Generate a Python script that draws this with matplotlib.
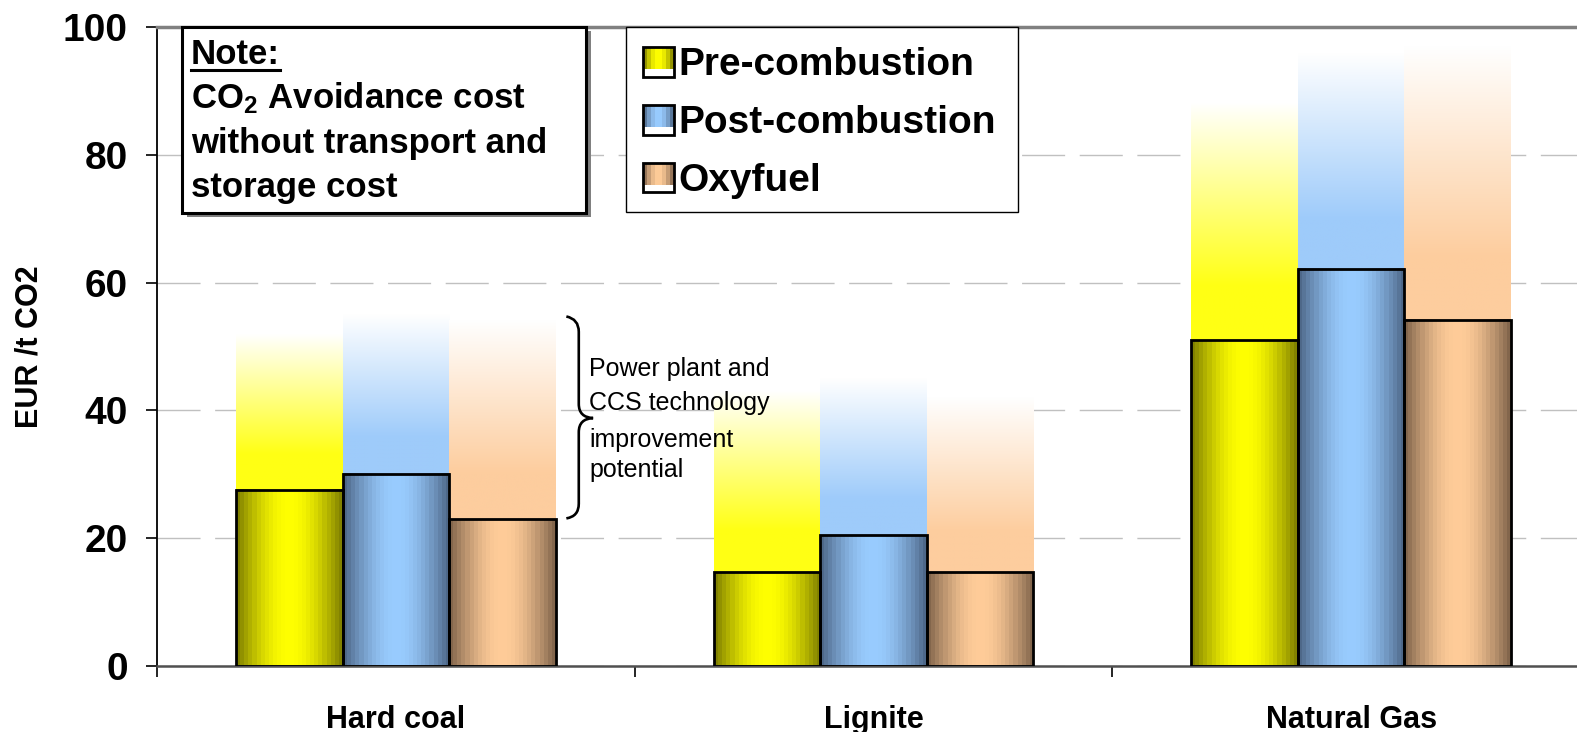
import numpy as np
import matplotlib
matplotlib.use("Agg")
import matplotlib.pyplot as plt
from matplotlib.patches import Rectangle, PathPatch
from matplotlib.path import Path
from matplotlib.legend_handler import HandlerBase
from matplotlib.colors import to_rgb
from matplotlib.lines import Line2D
from matplotlib.transforms import IdentityTransform

plt.rcParams['font.family'] = ['Liberation Sans', 'DejaVu Sans']
plt.rcParams['mathtext.fontset'] = 'custom'
plt.rcParams['mathtext.rm'] = 'Liberation Sans:bold'
plt.rcParams['mathtext.it'] = 'Liberation Sans:bold'
plt.rcParams['mathtext.bf'] = 'Liberation Sans:bold'

# ---- data -------------------------------------------------------------
categories = ["Hard coal", "Lignite", "Natural Gas"]
technologies = ["Pre-combustion", "Post-combustion", "Oxyfuel"]

# current CO2 avoidance cost (EUR / t CO2)
pre_cost = [27.6, 14.7, 51.0]
post_cost = [30.1, 20.5, 62.2]
oxy_cost = [23.0, 14.7, 54.2]

# upper end of the improvement-potential range (faded bars)
pre_upper = [52.0, 43.0, 88.0]
post_upper = [55.0, 45.0, 96.0]
oxy_upper = [54.0, 42.0, 97.0]

y_ticks = [0, 20, 40, 60, 80, 100]

note_title = "Note:"
note_lines = ["CO$_2$ Avoidance cost", "without transport and", "storage cost"]
potential_lines = ["Power plant and", "CCS technology", "improvement", "potential"]

# ---- styling -------------------------------------------------------------
# (bright centre, dark edge, fade colour) per technology
palette = {
    "Pre-combustion": ("#FFFF00", "#7A7A00", "#FFFF14"),
    "Post-combustion": ("#99CCFF", "#4A6282", "#9ECBFA"),
    "Oxyfuel": ("#FFCC99", "#7C6048", "#FDCD9E"),
}
bar_w = 0.223
offsets = [-bar_w, 0.0, bar_w]

# axes frame in pixels (left, width, bottom-from-top, height)
AX_L, AX_W, AX_BOT, AX_H = 157.0, 1433.0, 666.0, 639.0


def fx(px):
    return (px - AX_L) / AX_W


def fy(py):
    return (AX_BOT - py) / AX_H


def cylinder_colors(center, edge, n):
    c = np.array(to_rgb(center))
    e = np.array(to_rgb(edge))
    u = (np.arange(n) + 0.5) / n
    f = np.sin(np.pi * u)[:, None]
    return e + (c - e) * f


fig = plt.figure(figsize=(15.77, 7.32), dpi=100)
ax = fig.add_axes([AX_L / 1577, (732 - AX_BOT) / 732, AX_W / 1577, AX_H / 732])

x = np.arange(len(categories))
series = [(pre_cost, pre_upper), (post_cost, post_upper), (oxy_cost, oxy_upper)]

for tech, off, (vals, upper) in zip(technologies, offsets, series):
    center, edge, fade = palette[tech]
    # faded range bars (improvement potential)
    heights = np.array(upper) - np.array(vals)
    fades = ax.bar(x + off, heights, bar_w, bottom=vals, color='none', linewidth=0, zorder=1)
    fc = np.array(to_rgb(fade))
    m = 200
    t = (np.arange(m) + 0.5) / m
    a = np.clip((1 - t) * 1.3, 0, 1)[:, None]
    grad_v = (1 - a) + a * fc
    for p in fades.patches:
        ax.imshow(grad_v[:, None, :], origin='lower', aspect='auto', interpolation='bilinear',
                  extent=[p.get_x(), p.get_x() + p.get_width(), p.get_y(), p.get_y() + p.get_height()],
                  zorder=1)
    # solid cylinder-shaded bars
    bars = ax.bar(x + off, vals, bar_w, color='none', edgecolor='black', linewidth=2.0, zorder=3)
    stripes = cylinder_colors(center, edge, 26)
    for p in bars.patches:
        ax.imshow(stripes[None, :, :], origin='lower', aspect='auto', interpolation='nearest',
                  extent=[p.get_x(), p.get_x() + p.get_width(), p.get_y(), p.get_y() + p.get_height()],
                  zorder=2)

# ---- axes ----------------------------------------------------------------
ax.set_xlim(-0.5, len(categories) - 0.5)
ax.set_ylim(0, 100)
ax.set_yticks(y_ticks)
ax.set_yticklabels([str(v) for v in y_ticks], fontsize=28, fontweight='bold')
ax.tick_params(axis='y', length=8, width=1.2, pad=13, color='black')

ax.set_xticks(x)
ax.set_xticklabels(categories, fontsize=22, fontweight='bold')
ax.tick_params(axis='x', which='major', length=0, pad=28)
ax.set_xticks(np.arange(len(categories) + 1) - 0.5, minor=True)
ax.tick_params(axis='x', which='minor', length=8, width=1.2, color='black')

ax.set_axisbelow(True)
ax.yaxis.grid(True, color='#C0C0C0', linewidth=1.0, linestyle=(0, (31, 10.5)))

ax.spines['right'].set_visible(False)
ax.spines['top'].set_color('#808080')
ax.spines['top'].set_linewidth(2.5)
ax.spines['left'].set_color('black')
ax.spines['left'].set_linewidth(1.3)
ax.spines['bottom'].set_color('#505050')
ax.spines['bottom'].set_linewidth(1.8)

ax.set_ylabel("EUR /t CO2", fontsize=22, fontweight='bold')
ax.yaxis.set_label_coords(fx(45), 0.5)

# ---- note box --------------------------------------------------------------
bx0, bx1 = fx(182), fx(586)
by0, by1 = fy(213), 1.0
sh_dx, sh_dy = 5 / AX_W, 4 / AX_H
ax.add_patch(Rectangle((bx0 + sh_dx, by0 - sh_dy), bx1 - bx0, by1 - by0, transform=ax.transAxes,
                       facecolor='#808080', edgecolor='none', zorder=6, clip_on=False))
ax.add_patch(Rectangle((bx0, by0), bx1 - bx0, by1 - by0, transform=ax.transAxes,
                       facecolor='white', edgecolor='black', linewidth=2.2, zorder=7, clip_on=False))
tx = fx(191)
baselines = [fy(64.5), fy(108), fy(152.5), fy(197)]
title_txt = ax.text(tx, baselines[0], note_title, transform=ax.transAxes, fontsize=25,
                    fontweight='bold', va='baseline', ha='left', zorder=8)
for yb, line in zip(baselines[1:], note_lines):
    ax.text(tx, yb, line, transform=ax.transAxes, fontsize=25, fontweight='bold',
            va='baseline', ha='left', zorder=8)

# ---- legend ----------------------------------------------------------------
lx0, lx1 = fx(626), fx(1018)
ly0 = fy(212)
ax.add_patch(Rectangle((lx0, ly0), lx1 - lx0, 1.0 - ly0, transform=ax.transAxes,
                       facecolor='white', edgecolor='black', linewidth=1.0, zorder=6, clip_on=False))


class CylinderHandler(HandlerBase):
    def __init__(self, center, edge):
        super().__init__()
        self.center = center
        self.edge = edge

    def create_artists(self, legend, orig_handle, xdescent, ydescent, width, height, fontsize, trans):
        x0, y0 = -xdescent, -ydescent
        n = 8
        cols = cylinder_colors(self.center, self.edge, n)
        fill_h = height * 0.74
        arts = []
        for i, c in enumerate(cols):
            arts.append(Rectangle((x0 + i * width / n, y0 + height - fill_h), width / n, fill_h,
                                  facecolor=c, edgecolor='none', transform=trans))
        arts.append(Rectangle((x0, y0), width, height, facecolor='none', edgecolor='black',
                              linewidth=2.0, transform=trans))
        return arts


handles = [Rectangle((0, 0), 1, 1) for _ in technologies]
hmap = {h: CylinderHandler(palette[t][0], palette[t][1]) for h, t in zip(handles, technologies)}
leg = ax.legend(handles, technologies, handler_map=hmap, loc='upper left',
                bbox_to_anchor=(fx(643), fy(47)), frameon=False,
                borderpad=0, borderaxespad=0, handlelength=0.8, handleheight=0.8,
                handletextpad=0.12, labelspacing=0.55,
                prop={'size': 28, 'weight': 'bold'})
leg.set_zorder(9)

# ---- improvement potential brace -------------------------------------------
bxl, bxm, bxt = 0.357, 0.383, 0.413
verts = [
    (bxl, 54.7), (bxm, 54.3), (bxm, 52.3),
    (bxm, 41.0),
    (bxm, 38.9), (bxt, 38.8),
    (bxm, 38.7), (bxm, 36.6),
    (bxm, 25.4),
    (bxm, 23.4), (bxl, 23.1),
]
codes = [Path.MOVETO, Path.CURVE3, Path.CURVE3, Path.LINETO, Path.CURVE3, Path.CURVE3,
         Path.CURVE3, Path.CURVE3, Path.LINETO, Path.CURVE3, Path.CURVE3]
ax.add_patch(PathPatch(Path(verts, codes), facecolor='none', edgecolor='black',
                       linewidth=1.9, zorder=5))
for yb, line in zip([45.4, 40.0, 34.3, 29.6], potential_lines):
    ax.text(0.405, yb, line, fontsize=18, va='baseline', ha='left', zorder=5)

# underline of the note title
fig.canvas.draw()
bb = title_txt.get_window_extent()
_, yb_disp = ax.transAxes.transform((tx, baselines[0]))
ax.add_line(Line2D([bb.x0, bb.x1], [yb_disp - 5, yb_disp - 5], transform=IdentityTransform(),
                   color='black', linewidth=2.2, zorder=8, clip_on=False))

fig.savefig("out.png", dpi=100)
